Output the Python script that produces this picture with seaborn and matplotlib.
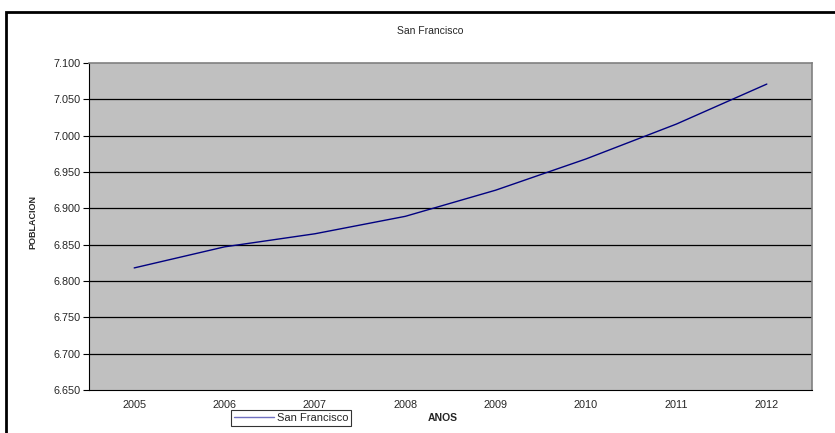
import matplotlib
matplotlib.use("Agg")
import matplotlib.pyplot as plt
import matplotlib.ticker as mticker
from matplotlib.patches import Rectangle
import seaborn as sns
import pandas as pd

years = ["2005", "2006", "2007", "2008", "2009", "2010", "2011", "2012"]
poblacion = [6.818, 6.847, 6.865, 6.889, 6.925, 6.968, 7.016, 7.071]
series_name = "San Francisco"
y_ticks = [6.650, 6.700, 6.750, 6.800, 6.850, 6.900, 6.950, 7.000, 7.050, 7.100]

sns.set_theme(style="white")
plt.rcParams['font.family'] = ['Liberation Sans', 'DejaVu Sans']

W, H = 835, 433
fig = plt.figure(figsize=(W / 100, H / 100), dpi=100)
ax = fig.add_axes([89 / W, 1 - 390 / H, (812 - 89) / W, (390 - 63) / H])
ax.set_facecolor("#C0C0C0")

df = pd.DataFrame({"year": years, "pob": poblacion, "serie": series_name})
x_pos = list(range(len(years)))
df["x"] = x_pos
sns.lineplot(data=df, x="x", y="pob", color="#000080", linewidth=1.0, ax=ax,
             label=series_name, legend=False)

ax.set_xlim(-0.5, len(years) - 0.5)
ax.set_ylim(y_ticks[0], y_ticks[-1])
ax.set_yticks(y_ticks)
ax.yaxis.set_major_formatter(mticker.FuncFormatter(lambda v, p: f"{v:.3f}"))
ax.set_xticks(x_pos)
ax.set_xticklabels(years)
ax.set_xticks([i - 0.5 for i in range(len(years) + 1)], minor=True)
ax.tick_params(axis="x", which="major", length=0, labelsize=7.8, pad=7)
ax.tick_params(axis="x", which="minor", length=4, width=0.8, color="black", direction="out")
ax.tick_params(axis="y", which="major", length=4, width=0.8, color="black", direction="out",
               labelsize=7.8, pad=2, left=True)
for yt in y_ticks[1:-1]:
    ax.axhline(yt, color="black", linewidth=0.9, zorder=1)

for s in ["top", "right"]:
    ax.spines[s].set_color("#808080")
    ax.spines[s].set_linewidth(1.2)
for s in ["left", "bottom"]:
    ax.spines[s].set_color("black")
    ax.spines[s].set_linewidth(0.8)

ax.set_xlabel("")
ax.set_ylabel("")
fig.text(430 / W, 1 - 31 / H, "San Francisco", ha="center", va="center", fontsize=7.5)
fig.text(33 / W, 1 - 222 / H, "POBLACION", rotation=90, ha="center", va="center",
         fontsize=6.5, fontweight="bold")
fig.text(443 / W, 1 - 418 / H, "ANOS", ha="center", va="center", fontsize=7.5,
         fontweight="bold")

leg = fig.legend(handles=ax.get_lines()[:1], labels=[series_name], loc="center",
                 bbox_to_anchor=(291 / W, 1 - 418 / H), fontsize=8, frameon=True,
                 fancybox=False, edgecolor="black", handlelength=3.6, handletextpad=0.3,
                 borderpad=0.25, borderaxespad=0)
leg.get_frame().set_linewidth(0.8)
leg.legend_handles[0].set_color("#7070C0")

fig.patches.append(Rectangle((6 / W, -0.05), 1.0, 1 - 12 / H + 0.05,
                             transform=fig.transFigure, fill=False,
                             edgecolor="black", linewidth=2.0))

fig.savefig("out.png", dpi=100)
